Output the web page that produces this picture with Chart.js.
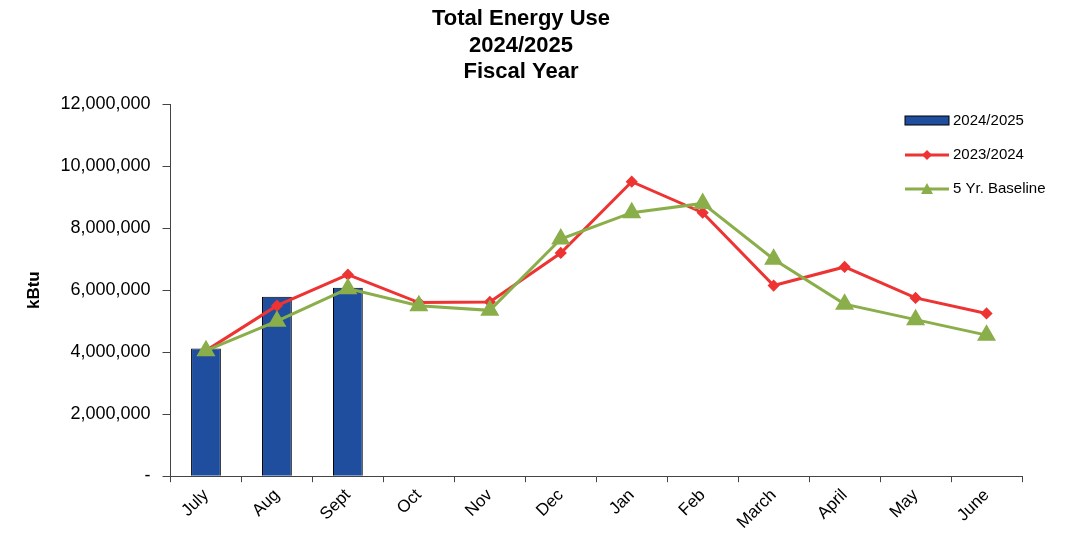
<!DOCTYPE html>
<html>
<head>
	<script src="https://cdn.jsdelivr.net/npm/chart.js@4.4.0/dist/chart.umd.min.js"></script>
	<title>Total Energy Use</title>
	<style>body{margin:0;background:#fff}</style>
</head>
<body>
	<div style="width:1074px;height:548px"><canvas id="chart"></canvas></div>
<script type="text/javascript">
	const months=['July','Aug','Sept','Oct','Nov','Dec','Jan','Feb','March','April','May','June'];
	const use2425=[4120000,5790000,6080000,null,null,null,null,null,null,null,null,null];
	const use2324=[4050000,5500000,6500000,5600000,5620000,7200000,9500000,8500000,6150000,6750000,5750000,5250000];
	const baseline=[4050000,5000000,6050000,5500000,5350000,7650000,8500000,8800000,7000000,5550000,5050000,4550000];

	// legend drawn inside the plot, top right
	const legendBox={
		id:'legendBox',
		afterDraw(chart){
			const c=chart.ctx;
			c.save();
			c.font='15px Arial, "Liberation Sans"';
			c.textBaseline='middle';
			const x=905, ys=[121,155,189];
			c.fillStyle='#1f4e9e';c.strokeStyle='#000';c.lineWidth=1;
			c.fillRect(x,116,44,9);c.strokeRect(x,116,44,9);
			c.strokeStyle='#ee3333';c.lineWidth=3;
			c.beginPath();c.moveTo(x,155);c.lineTo(x+44,155);c.stroke();
			c.fillStyle='#ee3333';c.beginPath();c.moveTo(x+22,150);c.lineTo(x+27,155);c.lineTo(x+22,160);c.lineTo(x+17,155);c.fill();
			c.strokeStyle='#8aae4a';
			c.beginPath();c.moveTo(x,189);c.lineTo(x+44,189);c.stroke();
			c.fillStyle='#8aae4a';c.beginPath();c.moveTo(x+22,183);c.lineTo(x+28,194);c.lineTo(x+16,194);c.fill();
			c.fillStyle='#000';
			chart.data.datasets.forEach((d,i)=>c.fillText(d.label,x+48,ys[i]));
			c.restore();
		}
	};

	const ctx=document.getElementById('chart').getContext('2d');
	new Chart(ctx,{
		data:{
			labels:months,
			datasets:[
				{type:'bar',label:'2024/2025',data:use2425,backgroundColor:'#1f4e9e',borderColor:'#000',borderWidth:1,categoryPercentage:1,barPercentage:0.42,order:3},
				{type:'line',label:'2023/2024',data:use2324,borderColor:'#ee3333',backgroundColor:'#ee3333',borderWidth:3,pointStyle:'rectRot',pointRadius:4,tension:0,order:2},
				{type:'line',label:'5 Yr. Baseline',data:baseline,borderColor:'#8aae4a',backgroundColor:'#8aae4a',borderWidth:3,pointStyle:'triangle',pointRadius:8,tension:0,order:1}
			]
		},
		plugins:[legendBox],
		options:{
			responsive:true,maintainAspectRatio:false,animation:false,
			layout:{padding:{left:20,right:52,top:0,bottom:12}},
			plugins:{
				legend:{display:false},
				tooltip:{enabled:false},
				title:{display:true,text:['Total Energy Use','2024/2025','Fiscal Year'],color:'#000',
					font:{family:'Arial, "Liberation Sans"',size:22,weight:'bold'},padding:{top:6,bottom:19},lineHeight:1.18}
			},
			scales:{
				x:{grid:{display:true,drawOnChartArea:false,tickLength:6,color:'#444'},border:{color:'#444'},
					ticks:{color:'#000',maxRotation:45,minRotation:45,font:{family:'Arial, "Liberation Sans"',size:17}}},
				y:{min:0,max:12000000,grid:{display:true,drawOnChartArea:false,tickLength:8,color:'#444'},border:{color:'#444'},
					title:{display:true,text:'kBtu',color:'#000',font:{family:'Arial, "Liberation Sans"',size:17,weight:'bold'}},
					ticks:{stepSize:2000000,color:'#000',padding:12,font:{family:'Arial, "Liberation Sans"',size:18},
						callback:v=>v===0?'-':v.toLocaleString('en-US')}}
			}
		}
	});
</script>
</body>
</html>
